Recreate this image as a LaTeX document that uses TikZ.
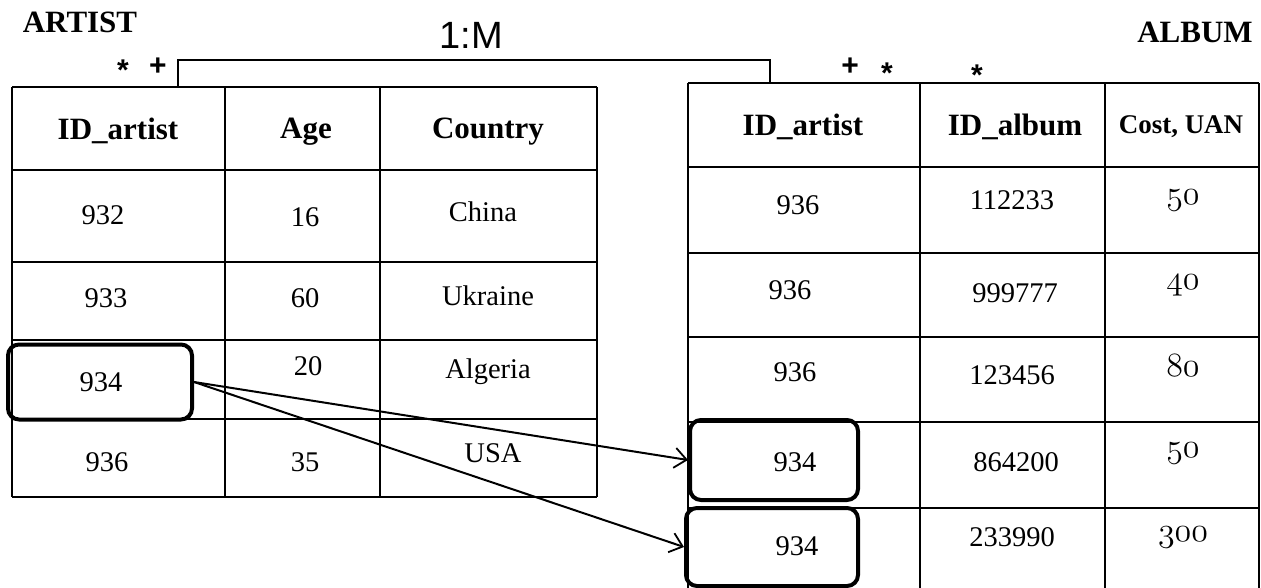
\documentclass[tikz,border=0pt]{standalone}
\usepackage{fontspec}
\setmainfont{Liberation Serif}
\newfontfamily\arialfont{Liberation Sans}
\usetikzlibrary{arrows.meta}
% old-style figures from the math italic font
\font\costfont=cmmi12 at 34pt

\begin{document}
\begin{tikzpicture}[x=1pt,y=-1pt,
  gridline/.style={line width=2pt},
  hdr/.style={inner sep=0pt,font=\fontsize{31}{33}\selectfont\bfseries},
  smallhdr/.style={inner sep=0pt,font=\fontsize{27}{29}\selectfont\bfseries},
  title/.style={inner sep=0pt,font=\fontsize{31}{33}\selectfont\bfseries},
  cell/.style={inner sep=0pt,font=\fontsize{28.5}{30}\selectfont},
  cost/.style={inner sep=0pt,font=\costfont},
  cardmark/.style={inner sep=0pt,font=\arialfont\fontsize{30}{32}\selectfont\bfseries},
  hlbox/.style={draw,line width=4pt,rounded corners=11pt,inner sep=0pt},
  link/.style={line width=2pt,-{Straight Barb[length=12pt,width=20pt,line width=1.8pt]}}
]
\useasboundingbox (0,0) rectangle (1261,588);

% ---------- table ARTIST ----------
\foreach \y in {87,170,262,340,419,497} \draw[gridline] (12,\y) -- (597,\y);
\foreach \x in {12,225,380,597} \draw[gridline] (\x,87) -- (\x,497);

\node[title] (tA) at (80,22) {ARTIST};
\node[hdr] (a1) at (118,131) {ID\_artist};
\node[hdr] (a2) at (306,132) {Age};
\node[hdr] (a3) at (488,132) {Country};

\node[cell] (r11) at (103,215) {932};
\node[cell] (r12) at (305,217) {16};
\node[cell] (r13) at (483,212) {China};
\node[cell] (r21) at (106,298) {933};
\node[cell] (r22) at (305,298) {60};
\node[cell] (r23) at (488,296) {Ukraine};
\node[cell] (r31) at (101,382) {934};
\node[cell] (r32) at (308,366) {20};
\node[cell] (r33) at (488,372) {Algeria};
\node[cell] (r41) at (107,462) {936};
\node[cell] (r42) at (305,462) {35};
\node[cell] (r43) at (493,453) {USA};

% ---------- table ALBUM ----------
\foreach \y in {83,167,253,337,422,508} \draw[gridline] (688,\y) -- (1259,\y);
\foreach \x in {688,920,1105,1259} \draw[gridline] (\x,83) -- (\x,588);

\node[title] (tB) at (1195,32) {ALBUM};
\node[hdr] (b1) at (803,127) {ID\_artist};
\node[hdr] (b2) at (1015,127) {ID\_album};
\node[smallhdr] (b3) at (1181,127) {Cost, UAN};

\node[cell] (s11) at (798,205) {936};
\node[cell] (s12) at (1012,200) {112233};
\node[cost] (s13) at (1183,200) {50};
\node[cell] (s21) at (790,290) {936};
\node[cell] (s22) at (1015,293) {999777};
\node[cost] (s23) at (1183,285) {40};
\node[cell] (s31) at (795,372) {936};
\node[cell] (s32) at (1012,375) {123456};
\node[cost] (s33) at (1183,366) {80};
\node[cell] (s41) at (795,462) {934};
\node[cell] (s42) at (1016,462) {864200};
\node[cost] (s43) at (1183,453) {50};
\node[cell] (s51) at (797,546) {934};
\node[cell] (s52) at (1012,537) {233990};
\node[cost] (s53) at (1183,537) {300};

% ---------- relationship 1:M ----------
\coordinate (keyA) at (178,87);
\coordinate (keyB) at (770,83);
\draw[line width=2pt] (keyA) |- (770,60) -- (keyB);
\node[inner sep=0pt,font=\arialfont\fontsize{38}{40}\selectfont] (ratio) at (471,35) {1:M};

\node[cardmark] (m1) at (123,70) {*};
\node[cardmark] (m2) at (158,67) {+};
\node[cardmark] (m3) at (850,67) {+};
\node[cardmark] (m4) at (887,73) {*};
\node[cardmark] (m5) at (977,75) {*};

% ---------- highlighted keys ----------
\node[hlbox,minimum width=184pt,minimum height=75pt] (hA) at (100,382) {};
\node[hlbox,minimum width=168pt,minimum height=80pt] (hB) at (774,460) {};
\node[hlbox,minimum width=172pt,minimum height=78pt] (hC) at (772,547) {};

\draw[link] (hA.east) -- (hB.west);
\draw[link] (hA.east) -- (hC.west);
\end{tikzpicture}
\end{document}
